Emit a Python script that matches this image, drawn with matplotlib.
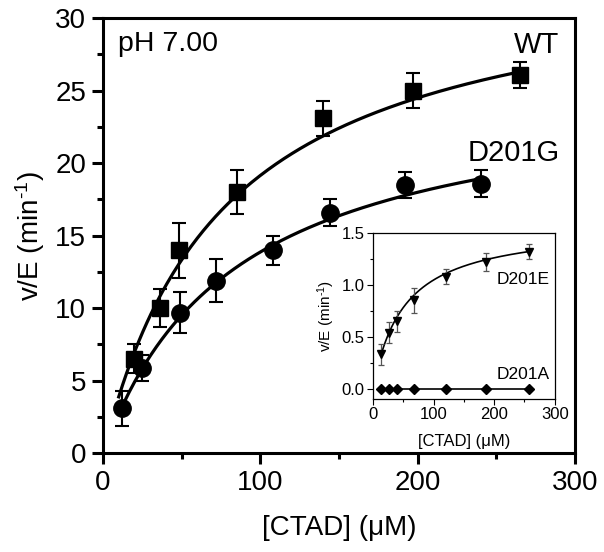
import numpy as np
import matplotlib
matplotlib.use('Agg')
import matplotlib.pyplot as plt
from matplotlib.ticker import MultipleLocator

plt.rcParams['font.family'] = ['Liberation Sans', 'DejaVu Sans']
plt.rcParams['mathtext.fontset'] = 'custom'
plt.rcParams['mathtext.rm'] = 'Liberation Sans'
plt.rcParams['mathtext.it'] = 'Liberation Sans'

# WT (squares)
wt_x = [20, 36, 48, 85, 140, 197, 265]
wt_y = [6.5, 10.0, 14.0, 18.0, 23.1, 25.0, 26.1]
wt_err = [1.0, 1.3, 1.9, 1.5, 1.2, 1.2, 0.9]
wt_vmax, wt_km = 34.0, 77.5

# D201G (circles)
g_x = [12, 25, 49, 72, 108, 144, 192, 240]
g_y = [3.1, 5.9, 9.7, 11.9, 14.0, 16.6, 18.5, 18.6]
g_err = [1.2, 0.9, 1.4, 1.5, 1.0, 0.9, 0.9, 0.9]
g_vmax, g_km = 25.6, 84.5

# inset: D201E (down triangles) and D201A (diamonds)
e_x = [13, 27, 40, 67, 121, 186, 257]
e_y = [0.33, 0.54, 0.65, 0.85, 1.08, 1.22, 1.32]
e_err = [0.10, 0.10, 0.10, 0.12, 0.07, 0.09, 0.07]
e_vmax, e_km = 1.584, 51.3
a_x = [13, 27, 40, 67, 121, 186, 257]
a_y = [0, 0, 0, 0, 0, 0, 0]


def mm(s, vmax, km):
    return vmax * s / (km + s)


fig = plt.figure(figsize=(6.04, 5.52), dpi=100)
ax = fig.add_axes([0.1705, 0.179, 0.7815, 0.788])

s = np.linspace(10, 265, 200)
ax.plot(s, mm(s, wt_vmax, wt_km), 'k-', lw=2.3)
s = np.linspace(11, 240, 200)
ax.plot(s, mm(s, g_vmax, g_km), 'k-', lw=2.3)
ax.errorbar(wt_x, wt_y, yerr=wt_err, fmt='s', color='k', ms=11, capsize=5,
            elinewidth=1.5, capthick=1.5)
ax.errorbar(g_x, g_y, yerr=g_err, fmt='o', color='k', ms=12.5, capsize=5,
            elinewidth=1.5, capthick=1.5)

ax.set_xlim(0, 300)
ax.set_ylim(0, 30)
ax.xaxis.set_major_locator(MultipleLocator(100))
ax.xaxis.set_minor_locator(MultipleLocator(50))
ax.yaxis.set_major_locator(MultipleLocator(5))
ax.yaxis.set_minor_locator(MultipleLocator(2.5))
ax.tick_params(which='major', length=8, width=2.2, labelsize=20, pad=4)
ax.tick_params(which='minor', length=4.5, width=2.2)
for sp in ax.spines.values():
    sp.set_linewidth(2.2)
ax.set_xlabel('[CTAD] (μM)', fontsize=20, labelpad=14)
ax.set_ylabel('v/E (min$^{\u2010 1}$)', fontsize=20, labelpad=6)

ax.text(9.5, 29.1, 'pH 7.00', fontsize=20.5, ha='left', va='top')
ax.text(290, 29.1, 'WT', fontsize=21, ha='right', va='top')
ax.text(290, 21.7, 'D201G', fontsize=21, ha='right', va='top')

# inset
ins = fig.add_axes([0.6175, 0.277, 0.301, 0.301])
s = np.linspace(13, 257, 200)
ins.plot(s, mm(s, e_vmax, e_km), 'k-', lw=1.2)
ins.errorbar(e_x, e_y, yerr=e_err, fmt='v', color='k', ms=6, capsize=2.5,
             ecolor='#555555', elinewidth=0.9, capthick=0.9)
ins.plot(a_x, a_y, 'kD-', ms=5, lw=1.2)
ins.set_xlim(0, 300)
ins.set_ylim(-0.1, 1.5)
ins.xaxis.set_major_locator(MultipleLocator(100))
ins.xaxis.set_minor_locator(MultipleLocator(50))
ins.yaxis.set_major_locator(MultipleLocator(0.5))
ins.yaxis.set_minor_locator(MultipleLocator(0.25))
ins.yaxis.set_major_formatter(matplotlib.ticker.FormatStrFormatter('%.1f'))
ins.tick_params(which='major', length=4, width=0.8, labelsize=12, pad=2)
ins.tick_params(which='minor', length=2, width=0.8)
for sp in ins.spines.values():
    sp.set_linewidth(0.9)
ins.set_xlabel('[CTAD] (μM)', fontsize=12, labelpad=8)
ins.set_ylabel('v/E (min$^{\u2010 1}$)', fontsize=11, labelpad=3)
ins.text(291, 1.12, 'D201E', fontsize=12.5, ha='right', va='top')
ins.text(292, 0.21, 'D201A', fontsize=12.5, ha='right', va='top')

fig.savefig('out.png', dpi=100)
